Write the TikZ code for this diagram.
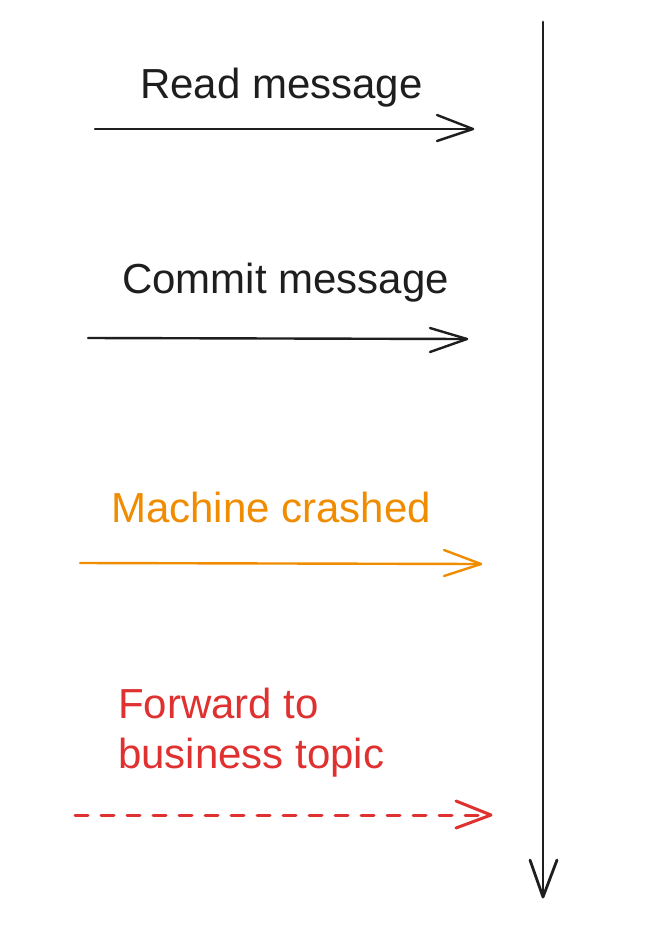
\documentclass[tikz,border=0pt]{standalone}
\usepackage{fontspec}
\setmainfont{Liberation Sans}
\definecolor{inkblack}{HTML}{1E1E1E}
\definecolor{inkorange}{HTML}{F08C00}
\definecolor{inkred}{HTML}{E03131}
\tikzset{
  lbl/.style={anchor=base west, inner sep=0pt, font=\fontsize{42}{50}\selectfont},
  conn/.style={line width=2.4pt, line cap=round, line join=round},
}
\begin{document}
\begin{tikzpicture}[x=1pt,y=-1pt]
\useasboundingbox (0,0) rectangle (664,945);
\fill[white] (0,0) rectangle (664,945);

% timeline
\coordinate (ts) at (543,22);
\coordinate (te) at (543,897);
\draw[conn, inkblack, line width=2.8pt] (ts) -- (te);
\draw[conn, inkblack, line width=2.8pt] ([shift={(-13,-37)}]te) -- (te) -- ([shift={(14,-37)}]te);

% labels
\node[lbl, text=inkblack] (l1) at (140,98) {Read message};
\node[lbl, text=inkblack] (l2) at (122,293) {Commit message};
\node[lbl, text=inkorange] (l3) at (111,522) {Machine crashed};
\node[lbl, text=inkred, align=left] (l4) at (118,768) {Forward to\\business topic};

% arrow 1
\coordinate (a1) at (95,129);
\coordinate (b1) at (473,129);
\draw[conn, inkblack] (a1) -- (b1);
\draw[conn, inkblack] ([shift={(-36,-14)}]b1) -- (b1) -- ([shift={(-36,12)}]b1);

% arrow 2
\coordinate (a2) at (88,338);
\coordinate (b2) at (467,339);
\draw[conn, inkblack] (a2) -- (b2);
\draw[conn, inkblack] ([shift={(-37,-11)}]b2) -- (b2) -- ([shift={(-37,13)}]b2);

% arrow 3
\coordinate (a3) at (80,563);
\coordinate (b3) at (481,564);
\draw[conn, inkorange] (a3) -- (b3);
\draw[conn, inkorange] ([shift={(-37,-14)}]b3) -- (b3) -- ([shift={(-37,12)}]b3);

% arrow 4
\coordinate (a4) at (75,815);
\coordinate (b4) at (491,815);
\draw[conn, inkred, line width=3pt, dash pattern=on 13pt off 13pt] (a4) -- ([xshift=-6]b4);
\draw[conn, inkred, line width=3pt] ([shift={(-35,-14)}]b4) -- (b4) -- ([shift={(-35,13)}]b4);
\end{tikzpicture}
\end{document}
